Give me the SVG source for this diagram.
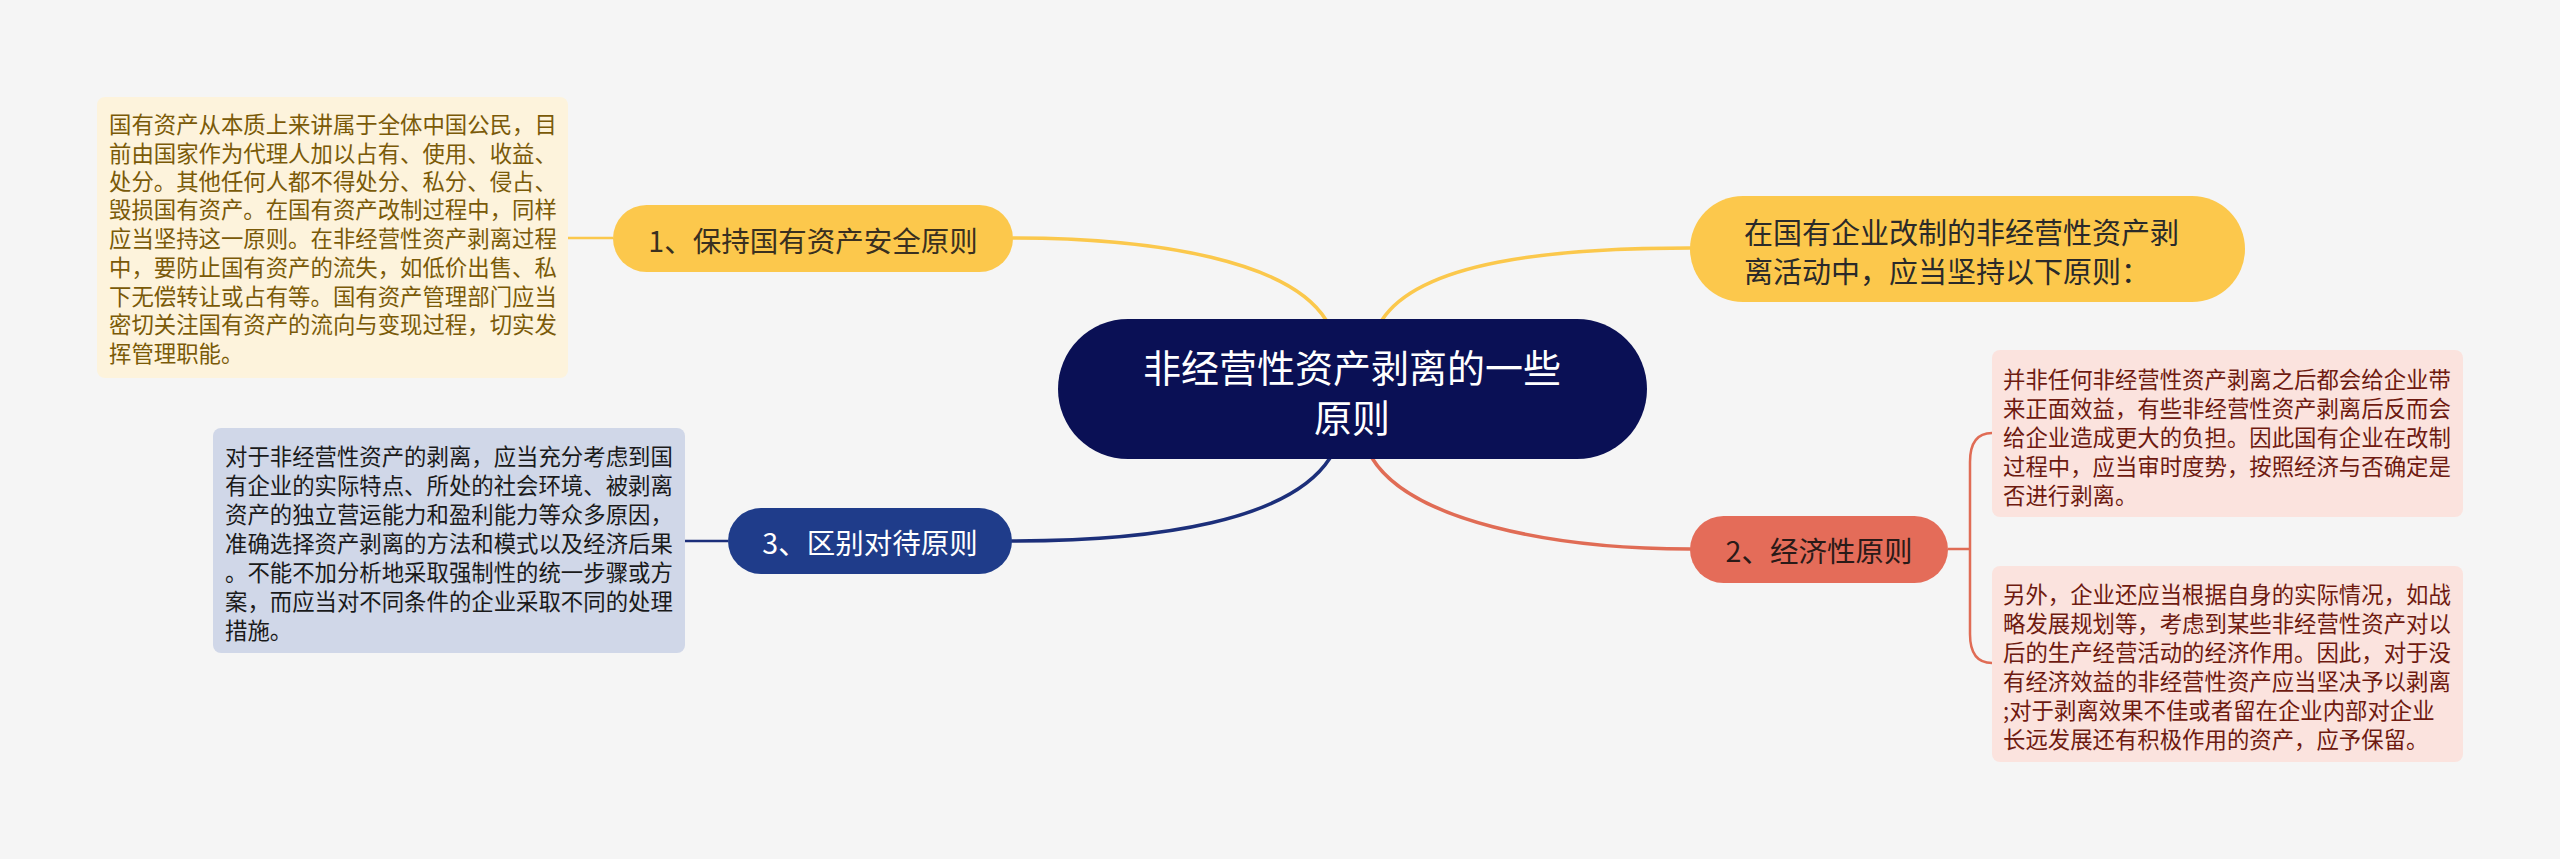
<svg xmlns="http://www.w3.org/2000/svg" width="2560" height="859" viewBox="0 0 2560 859">
<style>
.t{font-family:"Noto Sans CJK SC","Noto Sans",sans-serif;dominant-baseline:central}
.s{font-size:22.4px}
.m{font-size:28.5px}
.c{fill:none;stroke-width:3.5;stroke-linecap:round}
.th{fill:none;stroke-width:2.5}
</style>
<rect x="0" y="0" width="2560" height="859" fill="#f5f5f5"/>
<g id="connectors">
<path class="c" stroke="#fbc84c" d="M1326,320 C1290,262 1160,238 1013,238"/>
<path class="c" stroke="#fbc84c" d="M1382,320 C1420,262 1550,248 1690,248"/>
<path class="c" stroke="#1c2f7a" d="M1330,458 C1290,520 1160,541 1012,541"/>
<path class="c" stroke="#e06c55" d="M1372,458 C1410,520 1550,549 1690,549"/>
<path class="th" stroke="#fbc84c" d="M568,238 H613"/>
<path class="th" stroke="#1c2f7a" d="M685,541 H728"/>
<path class="th" stroke="#e06c55" d="M1948,549 H1970 M1992,433 Q1970,433 1970,462 V634 Q1970,663 1992,663"/>
</g>
<g id="center">
<rect x="1058" y="319" width="589" height="140" rx="70" fill="#0a1055"/>
<text class="t" x="1352" y="365" font-size="38" fill="#ffffff" text-anchor="middle">非经营性资产剥离的一些</text>
<text class="t" x="1352" y="415" font-size="38" fill="#ffffff" text-anchor="middle">原则</text>
</g>
<g id="n1">
<rect x="613" y="205" width="400" height="67" rx="33.5" fill="#fcc84c"/>
<text class="t m" x="813" y="239" fill="#3a3020" text-anchor="middle">1、保持国有资产安全原则</text>
</g>
<g id="n1text">
<rect x="97" y="97" width="471" height="281" rx="8" fill="#fdf3dc"/>
<g class="t s" fill="#7a5a08">
<text x="109" y="123">国有资产从本质上来讲属于全体中国公民，目</text>
<text x="109" y="152">前由国家作为代理人加以占有、使用、收益、</text>
<text x="109" y="180">处分。其他任何人都不得处分、私分、侵占、</text>
<text x="109" y="208">毁损国有资产。在国有资产改制过程中，同样</text>
<text x="109" y="237">应当坚持这一原则。在非经营性资产剥离过程</text>
<text x="109" y="266">中，要防止国有资产的流失，如低价出售、私</text>
<text x="109" y="295">下无偿转让或占有等。国有资产管理部门应当</text>
<text x="109" y="323">密切关注国有资产的流向与变现过程，切实发</text>
<text x="109" y="352">挥管理职能。</text>
</g>
</g>
<g id="intro">
<rect x="1690" y="196" width="555" height="106" rx="53" fill="#fcc84c"/>
<text class="t" x="1744" y="231" font-size="29" fill="#2a2a2a">在国有企业改制的非经营性资产剥</text>
<text class="t" x="1744" y="270" font-size="29" fill="#2a2a2a">离活动中，应当坚持以下原则：</text>
</g>
<g id="n3">
<rect x="728" y="508" width="284" height="66" rx="33" fill="#1f3c8a"/>
<text class="t m" x="870" y="541" fill="#ffffff" text-anchor="middle">3、区别对待原则</text>
</g>
<g id="n3text">
<rect x="213" y="428" width="472" height="225" rx="8" fill="#d0d7e8"/>
<g class="t s" fill="#1a1a1a">
<text x="225" y="455">对于非经营性资产的剥离，应当充分考虑到国</text>
<text x="225" y="484">有企业的实际特点、所处的社会环境、被剥离</text>
<text x="225" y="513">资产的独立营运能力和盈利能力等众多原因，</text>
<text x="225" y="542">准确选择资产剥离的方法和模式以及经济后果</text>
<text x="225" y="571">。不能不加分析地采取强制性的统一步骤或方</text>
<text x="225" y="600">案，而应当对不同条件的企业采取不同的处理</text>
<text x="225" y="629">措施。</text>
</g>
</g>
<g id="n2">
<rect x="1690" y="516" width="258" height="67" rx="33.5" fill="#e46c59"/>
<text class="t m" x="1819" y="549" fill="#2a1a18" text-anchor="middle">2、经济性原则</text>
</g>
<g id="n2a">
<rect x="1992" y="350" width="471" height="167" rx="8" fill="#fbe3de"/>
<g class="t s" fill="#6e1a10">
<text x="2003" y="378">并非任何非经营性资产剥离之后都会给企业带</text>
<text x="2003" y="407">来正面效益，有些非经营性资产剥离后反而会</text>
<text x="2003" y="436">给企业造成更大的负担。因此国有企业在改制</text>
<text x="2003" y="465">过程中，应当审时度势，按照经济与否确定是</text>
<text x="2003" y="494">否进行剥离。</text>
</g>
</g>
<g id="n2b">
<rect x="1992" y="566" width="471" height="196" rx="8" fill="#fbe3de"/>
<g class="t s" fill="#6e1a10">
<text x="2003" y="593">另外，企业还应当根据自身的实际情况，如战</text>
<text x="2003" y="622">略发展规划等，考虑到某些非经营性资产对以</text>
<text x="2003" y="651">后的生产经营活动的经济作用。因此，对于没</text>
<text x="2003" y="680">有经济效益的非经营性资产应当坚决予以剥离</text>
<text x="2003" y="709">;对于剥离效果不佳或者留在企业内部对企业</text>
<text x="2003" y="738">长远发展还有积极作用的资产，应予保留。</text>
</g>
</g>
</svg>
